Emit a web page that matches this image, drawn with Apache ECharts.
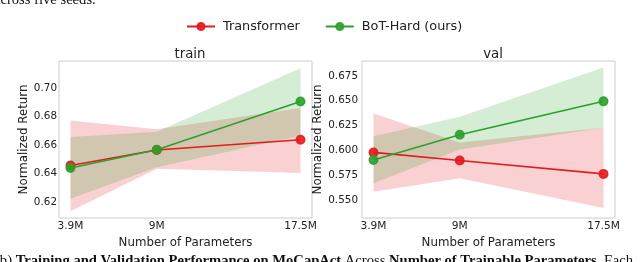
<!DOCTYPE html>
<html>
<head>
<meta charset="utf-8">
<script src="https://cdn.jsdelivr.net/npm/echarts@6/dist/echarts.min.js"></script>
<style>
html,body{margin:0;padding:0;background:#fff;}
#c{width:640px;height:262px;}
</style>
</head>
<body>
<div id="c"></div>
<script>
// ---- data ----
const params = [3.9, 9, 17.5];
const paramLabels = ['3.9M', '9M', '17.5M'];
const seriesNames = ['Transformer', 'BoT-Hard (ours)'];
const panelTitles = ['train', 'val'];

const trainTransformer   = [0.6458, 0.6566, 0.6638];
const trainTransformerLo = [0.6137, 0.6435, 0.6406];
const trainTransformerHi = [0.6773, 0.6712, 0.6860];
const trainBot   = [0.6440, 0.6568, 0.6906];
const trainBotLo = [0.6224, 0.6445, 0.6666];
const trainBotHi = [0.6657, 0.6695, 0.7140];

const valTransformer   = [0.5980, 0.5899, 0.5764];
const valTransformerLo = [0.5584, 0.5720, 0.5420];
const valTransformerHi = [0.6372, 0.6080, 0.6227];
const valBot   = [0.5903, 0.6158, 0.6494];
const valBotLo = [0.5670, 0.6010, 0.6227];
const valBotHi = [0.6142, 0.6338, 0.6835];

const trainYTicks = [0.62, 0.64, 0.66, 0.68, 0.70];
const valYTicks = [0.550, 0.575, 0.600, 0.625, 0.650, 0.675];

// ---- chart ----
const RED = '#e41a1c', GREEN = '#2ca02c';
const RED_FILL = 'rgba(228,26,28,0.2)', GREEN_FILL = 'rgba(44,160,44,0.2)';
const FONT = 'DejaVu Sans';
const pts = (ys) => params.map((x, i) => [x, ys[i]]);

function band(idx, lo, hi, fill) {
  return { type: 'custom', xAxisIndex: idx, yAxisIndex: idx, silent: true, z: 1,
    data: [[params[0], lo[0]]],
    renderItem: (p, api) => {
      const top = params.map((x, i) => api.coord([x, hi[i]]));
      const bot = params.map((x, i) => api.coord([x, lo[i]])).reverse();
      return { type: 'polygon', shape: { points: top.concat(bot) }, style: { fill: fill } };
    } };
}
function mainLine(idx, name, ys, color) {
  return { type: 'line', name: name, xAxisIndex: idx, yAxisIndex: idx, data: pts(ys),
    symbol: 'circle', symbolSize: 8.5,
    lineStyle: { color: color, width: 1.6 },
    itemStyle: { color: color, borderColor: color, borderWidth: 1.5, opacity: 0.9 },
    z: 3 };
}

const grids = [
  { left: 59, top: 61, width: 253, height: 157 },
  { left: 362, top: 61, width: 253, height: 157 }
];

function xAx(idx) {
  return { type: 'value', gridIndex: idx, min: 3.22, max: 18.18,
    axisLine: { show: false }, splitLine: { show: false }, axisTick: { show: false },
    axisLabel: { customValues: params, color: '#222', fontFamily: FONT, fontSize: 10.6, margin: 3,
      formatter: (v) => { const i = params.indexOf(v); return i >= 0 ? paramLabels[i] : ''; } },
    name: 'Number of Parameters', nameLocation: 'middle', nameGap: 11,
    nameTextStyle: { color: '#222', fontFamily: FONT, fontSize: 11.8 } };
}
function yAx(idx, min, max, ticks, dec) {
  return { type: 'value', gridIndex: idx, min: min, max: max,
    axisLine: { show: false }, splitLine: { show: false }, axisTick: { show: false },
    axisLabel: { customValues: ticks, color: '#222', fontFamily: FONT, fontSize: 10.4, margin: dec === 2 ? 2 : 4,
      formatter: (v) => v.toFixed(dec) },
    name: 'Normalized Return', nameLocation: 'middle', nameGap: dec === 2 ? 17 : 27,
    nameTextStyle: { color: '#222', fontFamily: FONT, fontSize: 11.8 } };
}

const option = {
  backgroundColor: '#fff',
  animation: false,
  title: [
    { text: panelTitles[0], left: 185, top: 43, textAlign: 'center',
      textStyle: { fontFamily: FONT, fontSize: 13.3, fontWeight: 'normal', color: '#222' } },
    { text: panelTitles[1], left: 488, top: 43, textAlign: 'center',
      textStyle: { fontFamily: FONT, fontSize: 13.3, fontWeight: 'normal', color: '#222' } }
  ],
  legend: { data: seriesNames, top: 15, left: 181, itemWidth: 28, itemHeight: 9, itemGap: 25,
    textStyle: { fontFamily: FONT, fontSize: 12.8, color: '#222', padding: [0, 0, 0, 3] } },
  grid: grids.map(g => Object.assign({ show: true, borderColor: '#cccccc', borderWidth: 1 }, g)),
  xAxis: [xAx(0), xAx(1)],
  yAxis: [yAx(0, 0.609, 0.719, trainYTicks, 2), yAx(1, 0.532, 0.690, valYTicks, 3)],
  graphic: [
    { type: 'text', left: -6, top: -7, style: { text: 'across five seeds.', font: '14.6px "Liberation Serif"', fill: '#111' } },
    { type: 'text', left: -5, top: 254, style: {
        text: '{n|(b) }{b|Training and Validation Performance on MoCapAct }{n|Across }{b|Number of Trainable Parameters.}{n| Each}',
        rich: { n: { font: '14.6px "Liberation Serif"', fill: '#111' }, b: { font: 'bold 14.6px "Liberation Serif"', fill: '#111' } } } }
  ],
  series: [
    band(0, trainTransformerLo, trainTransformerHi, RED_FILL),
    band(0, trainBotLo, trainBotHi, GREEN_FILL),
    band(1, valTransformerLo, valTransformerHi, RED_FILL),
    band(1, valBotLo, valBotHi, GREEN_FILL),
    mainLine(0, seriesNames[0], trainTransformer, RED),
    mainLine(0, seriesNames[1], trainBot, GREEN),
    mainLine(1, seriesNames[0], valTransformer, RED),
    mainLine(1, seriesNames[1], valBot, GREEN)
  ]
};
const chart = echarts.init(document.getElementById('c'), null, { renderer: 'canvas' });
chart.setOption(option);
</script>
</body>
</html>
